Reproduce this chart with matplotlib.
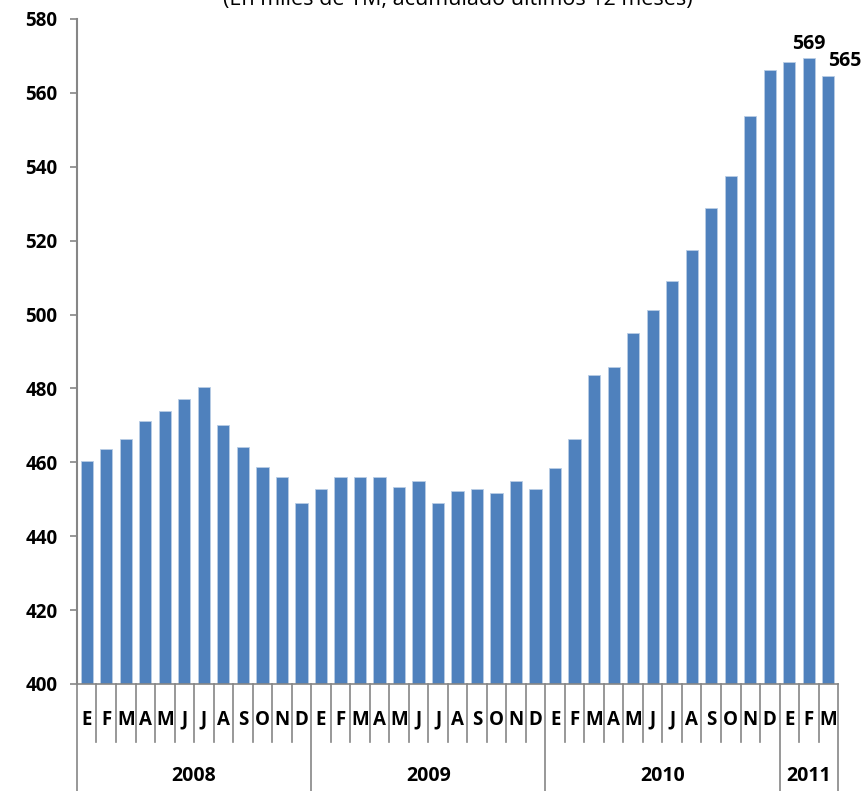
import numpy as np
import matplotlib
matplotlib.use("Agg")
import matplotlib.pyplot as plt

plt.rcParams['font.family'] = ['Open Sans', 'DejaVu Sans']

# Datos: miles de TM, acumulado ultimos 12 meses
months = ["E", "F", "M", "A", "M", "J", "J", "A", "S", "O", "N", "D"]
years = ["2008", "2009", "2010", "2011"]
months_per_year = [12, 12, 12, 3]
values = [
    460.4, 463.6, 466.3, 471.2, 473.9, 477.2, 480.4, 470.1, 464.2, 458.7, 456.0, 449.0,
    452.8, 456.0, 456.0, 456.0, 453.3, 455.0, 449.0, 452.2, 452.8, 451.7, 455.0, 452.8,
    458.5, 466.3, 483.6, 485.8, 495.0, 501.2, 509.1, 517.5, 528.9, 537.5, 553.8, 566.2,
    568.4, 569.4, 564.6,
]
labels_shown = {37: "569", 38: "565"}

month_labels = []
for n in months_per_year:
    month_labels += months[:n]

fig = plt.figure(figsize=(8.61, 7.91), dpi=100)
ax = fig.add_axes([0.0894, 0.1353, 0.884, 0.8407])

x = np.arange(len(values))
ax.bar(x, np.array(values) - 400, bottom=400, width=0.63, color="#4F81BD",
       edgecolor="#B9CDE5", linewidth=0.6)

ax.set_xlim(-0.5, len(values) - 0.5)
ax.set_ylim(400, 580)
ax.set_yticks(np.arange(400, 581, 20))
ax.tick_params(axis="y", length=5, width=1.2, color="#868686", labelsize=13.5, pad=9)
for t in ax.get_yticklabels():
    t.set_fontweight("bold")
ax.set_xticks([])

for s in ["top", "right"]:
    ax.spines[s].set_visible(False)
ax.spines["left"].set_color("#868686")
ax.spines["left"].set_linewidth(1.5)
ax.spines["bottom"].set_color("#868686")
ax.spines["bottom"].set_linewidth(1.2)

# etiquetas de datos
for i, txt in labels_shown.items():
    dx = 0.85 if i == len(values) - 1 else 0
    ax.text(x[i] + dx, values[i] + 1.2, txt, ha="center", va="bottom",
            fontsize=14, fontweight="bold")

# eje categorico de dos niveles
trans = ax.get_xaxis_transform()
month_y = -0.0872
year_y = -0.161
boundaries = np.arange(len(values) + 1) - 0.5
year_edges = np.concatenate([[0], np.cumsum(months_per_year)]) - 0.5
for b in boundaries:
    bottom = year_y if b in year_edges else month_y
    ax.plot([b, b], [0, bottom], transform=trans, color="#868686", lw=1.2, clip_on=False)

for i, m in enumerate(month_labels):
    ax.text(x[i], -0.054, m, transform=trans, ha="center", va="center",
            fontsize=13.5, fontweight="bold")

for k, yr in enumerate(years):
    mid = (year_edges[k] + year_edges[k + 1]) / 2
    ax.text(mid, -0.138, yr, transform=trans, ha="center", va="center",
            fontsize=14, fontweight="bold")

# titulo (cortado en la parte superior)
fig.text(0.532, 0.994, "(En miles de TM, acumulado últimos 12 meses)",
         ha="center", va="baseline", fontsize=15.5)

fig.savefig("out.png", dpi=100)
